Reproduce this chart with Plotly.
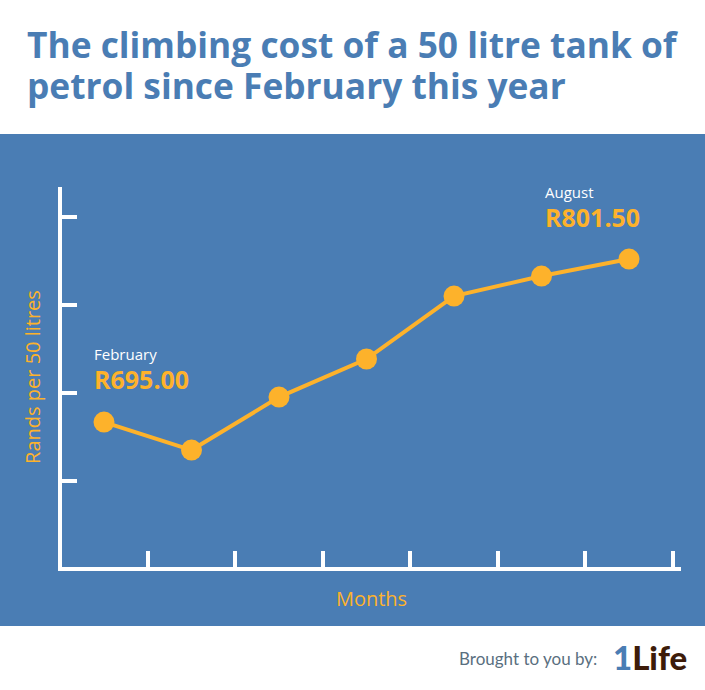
"""Climbing cost of a 50 litre tank of petrol, February to August."""
import plotly.graph_objects as go

months = ["February", "March", "April", "May", "June", "July", "August"]
cost_rands = [695.0, 676.7, 711.3, 736.2, 777.3, 790.4, 801.5]
y_ticks = [656.5, 714.0, 771.4, 828.9]

BLUE = "#4a7db4"
ORANGE = "#fdb22b"
WHITE = "#ffffff"
FONT = "Open Sans"

WIDTH, HEIGHT = 705, 690
# plot area edges; the axis lines sit just outside these
LEFT, RIGHT, TOP, BOTTOM = 62, 681, 187, 567


def px_x(x):
    return (x - LEFT) / (RIGHT - LEFT)


def px_y(y):
    return (BOTTOM - y) / (BOTTOM - TOP)


def label(text, x, y, size, color, weight=400, family=FONT):
    """Left aligned text placed by its pixel position in the picture."""
    return dict(
        text=text, x=px_x(x), y=px_y(y), xref="paper", yref="paper",
        xanchor="left", yanchor="middle", align="left", showarrow=False, borderpad=0,
        font=dict(family=family, size=size, color=color, weight=weight),
    )


fig = go.Figure()

fig.add_trace(go.Scatter(
    x=months,
    y=cost_rands,
    mode="lines+markers",
    line=dict(color=ORANGE, width=4),
    marker=dict(color=ORANGE, size=21),
    cliponaxis=False,
    hovertemplate="%{x}: R%{y:.2f}<extra></extra>",
))

# Blue panel behind the chart
fig.add_shape(
    type="rect", xref="paper", yref="paper", layer="below",
    x0=px_x(0), x1=px_x(WIDTH), y0=px_y(626), y1=px_y(134),
    fillcolor=BLUE, line_width=0,
)

annotations = [
    label("The climbing cost of a 50 litre tank of", 26, 44, 35.3, BLUE, 700),
    label("petrol since February this year", 26, 85, 35.3, BLUE, 700),
    label(months[0], 93, 354, 15, WHITE),
    label(f"R{cost_rands[0]:.2f}", 93, 379, 25, ORANGE, 700),
    label(months[-1], 544, 192, 15, WHITE),
    label(f"R{cost_rands[-1]:.2f}", 544, 217, 25, ORANGE, 700),
    label("Brought to you by:", 458, 658, 17, "#5a6f80", 400, "Lato"),
    label(f'<span style="color:{BLUE}">1</span>Life', 612, 657, 33, "#3d1c0a", 900, "Lato"),
]

fig.update_layout(
    width=WIDTH,
    height=HEIGHT,
    margin=dict(l=LEFT, r=WIDTH - RIGHT, t=TOP, b=HEIGHT - BOTTOM),
    paper_bgcolor=WHITE,
    plot_bgcolor=BLUE,
    showlegend=False,
    annotations=annotations,
)

fig.update_xaxes(
    type="category",
    categoryorder="array",
    categoryarray=months,
    range=[-0.48, 6.594],
    tickson="boundaries",
    ticks="inside",
    ticklen=16,
    tickwidth=4,
    tickcolor=WHITE,
    showticklabels=False,
    showgrid=False,
    zeroline=False,
    showline=True,
    linecolor=WHITE,
    linewidth=4,
    title=dict(text="Months", standoff=23, font=dict(family=FONT, size=20, color=ORANGE, weight=400)),
)

fig.update_yaxes(
    range=[600.3, 848.6],
    tickmode="array",
    tickvals=y_ticks,
    ticks="inside",
    ticklen=15,
    tickwidth=4,
    tickcolor=WHITE,
    showticklabels=False,
    showgrid=False,
    zeroline=False,
    showline=True,
    linecolor=WHITE,
    linewidth=4,
    title=dict(text="Rands per 50 litres", standoff=13, font=dict(family=FONT, size=20, color=ORANGE, weight=400)),
)

fig.write_html(
    "out.html",
    config={"displayModeBar": False},
    post_script="document.body.style.margin = '0';",
)
